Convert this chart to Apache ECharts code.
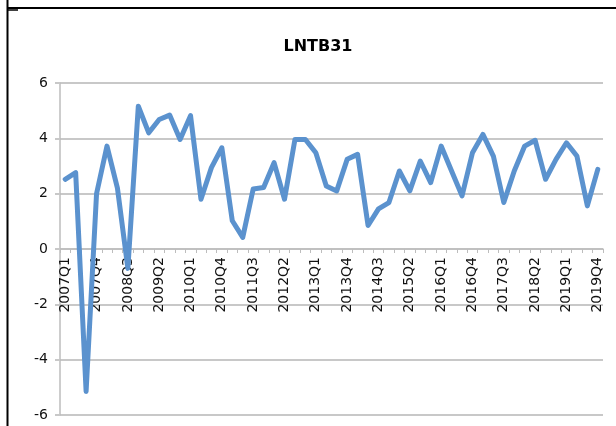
<!DOCTYPE html>
<html>
<head>
<meta charset="utf-8">
<script src="https://cdn.jsdelivr.net/npm/echarts@6/dist/echarts.min.js"></script>
<style>
html,body{margin:0;padding:0;background:#fff;}
#c{width:616px;height:426px;}
</style>
</head>
<body>
<div id="c"></div>
<script>
const titleText = 'LNTB31';
const categories = [
 '2007Q1','2007Q2','2007Q3','2007Q4','2008Q1','2008Q2','2008Q3','2008Q4',
 '2009Q1','2009Q2','2009Q3','2009Q4','2010Q1','2010Q2','2010Q3','2010Q4',
 '2011Q1','2011Q2','2011Q3','2011Q4','2012Q1','2012Q2','2012Q3','2012Q4',
 '2013Q1','2013Q2','2013Q3','2013Q4','2014Q1','2014Q2','2014Q3','2014Q4',
 '2015Q1','2015Q2','2015Q3','2015Q4','2016Q1','2016Q2','2016Q3','2016Q4',
 '2017Q1','2017Q2','2017Q3','2017Q4','2018Q1','2018Q2','2018Q3','2018Q4',
 '2019Q1','2019Q2','2019Q3','2019Q4'
];
const values = [
 2.52, 2.76, -5.15, 2.0, 3.72, 2.2, -0.7, 5.16,
 4.2, 4.68, 4.84, 3.96, 4.82, 1.8, 2.94, 3.66,
 1.02, 0.42, 2.17, 2.22, 3.12, 1.8, 3.96, 3.96,
 3.48, 2.28, 2.1, 3.24, 3.42, 0.85, 1.45, 1.68,
 2.82, 2.1, 3.18, 2.4, 3.72, 2.82, 1.92, 3.48,
 4.14, 3.36, 1.68, 2.82, 3.72, 3.93, 2.52, 3.24,
 3.84, 3.36, 1.56, 2.88
];
const yMin = -6, yMax = 6, yStep = 2;

const W = 616, H = 426;
const gridTop = 83, gridBottom = 11;
const gridH = H - gridTop - gridBottom;
// shift the category axis so it crosses the value axis at 0
const zeroOffset = -gridH * (0 - yMin) / (yMax - yMin);

const chart = echarts.init(document.getElementById('c'), null, {renderer:'canvas'});
const labelFont = 'DejaVu Sans';
chart.setOption({
  animation: false,
  backgroundColor: '#fff',
  title: {
    text: titleText, left: 313, top: 34, textAlign: 'center',
    textStyle: {fontFamily: labelFont, fontWeight: 'bold', fontSize: 16, color: '#000'}
  },
  grid: {left: 60, right: 13, top: gridTop, bottom: gridBottom, containLabel: false, outerBoundsMode: 'none'},
  xAxis: {
    type: 'category', data: categories, boundaryGap: true, position: 'bottom', offset: zeroOffset,
    axisLine: {show: true, onZero: false, lineStyle: {color: '#bdbdbd', width: 1.5}},
    axisTick: {show: true, interval: 0, length: 4, lineStyle: {color: '#bdbdbd', width: 1}},
    axisLabel: {interval: 2, rotate: 90, margin: 8, fontFamily: labelFont, fontSize: 14, color: '#111'},
    splitLine: {show: false}
  },
  yAxis: {
    type: 'value', min: yMin, max: yMax, interval: yStep,
    axisLine: {show: true, onZero: false, lineStyle: {color: '#bdbdbd', width: 1.5}},
    axisTick: {show: true, length: 5, lineStyle: {color: '#c8c8c8', width: 2}},
    axisLabel: {margin: 12, fontFamily: labelFont, fontSize: 14, color: '#111'},
    splitLine: {show: true, lineStyle: {color: '#c8c8c8', width: 2, type: 'solid', opacity: 1}}
  },
  series: [{
    type: 'line', data: values, symbol: 'none', smooth: false, z: 3,
    lineStyle: {color: '#5B92CE', width: 5, join: 'round', cap: 'round'}
  }],
  graphic: [
    {type: 'line', shape: {x1: 7.5, y1: 0, x2: 7.5, y2: 426}, style: {stroke: '#000', lineWidth: 2}},
    {type: 'line', shape: {x1: 7, y1: 8, x2: 616, y2: 8}, style: {stroke: '#000', lineWidth: 2}},
    {type: 'line', shape: {x1: 7, y1: 10, x2: 18, y2: 10}, style: {stroke: '#000', lineWidth: 1.5}}
  ]
});
</script>
</body>
</html>
